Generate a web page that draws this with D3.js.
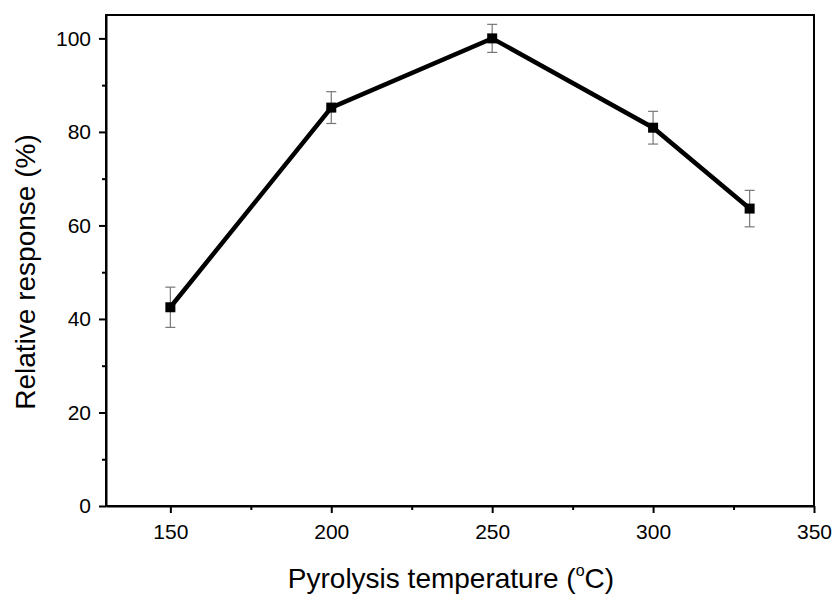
<!DOCTYPE html>
<html>
<head>
<meta charset="utf-8">
<script src="https://cdn.jsdelivr.net/npm/d3@7"></script>
<style>
  body { margin: 0; background: #fff; }
  text { font-family: "Liberation Sans", Arial, sans-serif; }
</style>
</head>
<body>
<script>
// data
const temps = [150, 200, 250, 300, 330];
const response = [42.5, 85.2, 100.0, 80.9, 63.6];
const errors = [4.3, 3.4, 3.0, 3.5, 3.9];
const xTicks = [150, 200, 250, 300, 350];
const yTicks = [0, 20, 40, 60, 80, 100];

const width = 836, height = 599;
const margin = {left: 106, right: 22, top: 15, bottom: 93};

const svg = d3.select("body").append("svg")
  .attr("width", width)
  .attr("height", height);

const x = d3.scaleLinear().domain([130, 350]).range([margin.left, width - margin.right]);
const y = d3.scaleLinear().domain([0, 105]).range([height - margin.bottom, margin.top]);

// frame
svg.append("rect")
  .attr("x", x(130)).attr("y", y(105))
  .attr("width", x(350) - x(130)).attr("height", y(0) - y(105))
  .attr("fill", "none").attr("stroke", "#000").attr("stroke-width", 2);

// x axis, major + minor ticks
svg.append("g")
  .attr("transform", `translate(0,${y(0)})`)
  .call(d3.axisBottom(x).tickValues(xTicks).tickSize(7).tickPadding(11).tickSizeOuter(0));
svg.append("g")
  .attr("transform", `translate(0,${y(0)})`)
  .call(d3.axisBottom(x).tickValues([175, 225, 275, 325]).tickSize(4).tickFormat("").tickSizeOuter(0))
  .call(g => g.select(".domain").remove());

// y axis
svg.append("g")
  .attr("transform", `translate(${x(130)},0)`)
  .call(d3.axisLeft(y).tickValues(yTicks).tickSize(7).tickPadding(8).tickSizeOuter(0));
svg.append("g")
  .attr("transform", `translate(${x(130)},0)`)
  .call(d3.axisLeft(y).tickValues([10, 30, 50, 70, 90]).tickSize(4).tickFormat("").tickSizeOuter(0))
  .call(g => g.select(".domain").remove());

svg.selectAll(".tick line").attr("stroke-width", 2);
svg.selectAll(".domain").attr("stroke-width", 2);
svg.selectAll(".tick text").attr("font-size", 21).attr("fill", "#000");

// error bars
const pts = temps.map((t, i) => ({t: t, v: response[i], e: errors[i]}));
const eb = svg.append("g").attr("stroke", "#777").attr("stroke-width", 1.2);
eb.selectAll(".bar").data(pts).enter().append("line")
  .attr("x1", d => x(d.t)).attr("x2", d => x(d.t))
  .attr("y1", d => y(d.v - d.e)).attr("y2", d => y(d.v + d.e));
eb.selectAll(".capT").data(pts).enter().append("line")
  .attr("x1", d => x(d.t) - 5).attr("x2", d => x(d.t) + 5)
  .attr("y1", d => y(d.v + d.e)).attr("y2", d => y(d.v + d.e));
eb.selectAll(".capB").data(pts).enter().append("line")
  .attr("x1", d => x(d.t) - 5).attr("x2", d => x(d.t) + 5)
  .attr("y1", d => y(d.v - d.e)).attr("y2", d => y(d.v - d.e));

// line
svg.append("path")
  .datum(pts)
  .attr("fill", "none")
  .attr("stroke", "#000")
  .attr("stroke-width", 4.5)
  .attr("d", d3.line().x(d => x(d.t)).y(d => y(d.v)));

// markers
svg.selectAll(".pt").data(pts).enter().append("rect")
  .attr("x", d => x(d.t) - 5).attr("y", d => y(d.v) - 5)
  .attr("width", 10).attr("height", 10)
  .attr("fill", "#000");

// axis titles
const xt = svg.append("text")
  .attr("x", 451)
  .attr("y", 588)
  .attr("text-anchor", "middle")
  .attr("font-size", 28);
xt.append("tspan").text("Pyrolysis temperature (");
xt.append("tspan").attr("font-size", 16).attr("dy", -12).text("o");
xt.append("tspan").attr("dy", 12).text("C)");

svg.append("text")
  .attr("transform", `translate(35,272) rotate(-90)`)
  .attr("text-anchor", "middle")
  .attr("font-size", 28)
  .text("Relative response (%)");
</script>
</body>
</html>
